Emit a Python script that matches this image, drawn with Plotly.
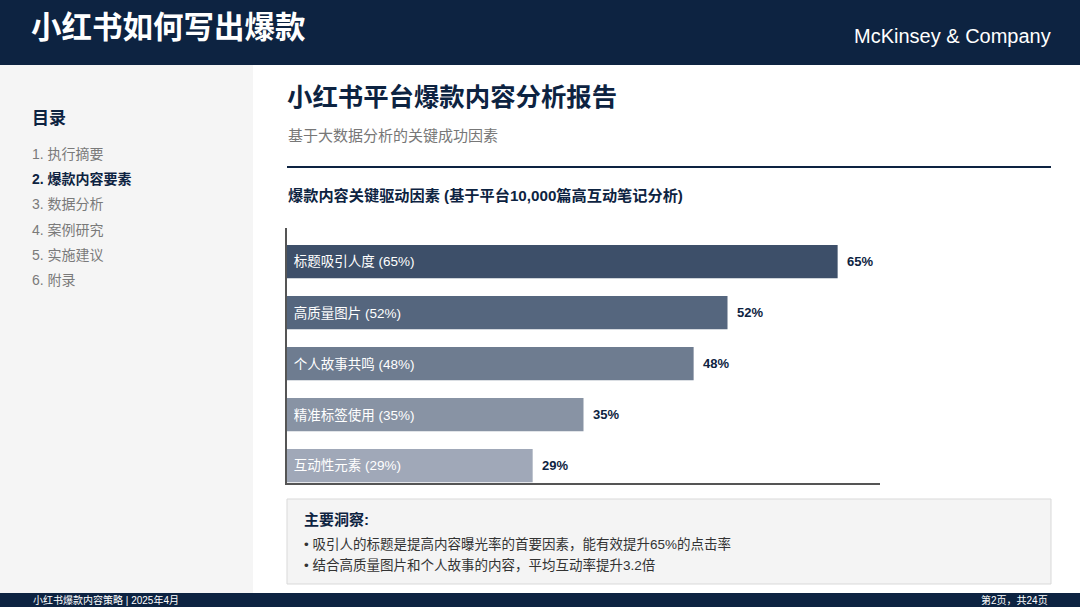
import plotly.graph_objects as go

W, H = 1080, 607

categories = ["标题吸引人度", "高质量图片", "个人故事共鸣", "精准标签使用", "互动性元素"]
values = [65, 52, 48, 35, 29]
bar_colors = ["#3d4f69", "#55667e", "#6e7c90", "#8893a4", "#a0a8b8"]
toc_items = ["1. 执行摘要", "2. 爆款内容要素", "3. 数据分析", "4. 案例研究", "5. 实施建议", "6. 附录"]
active_item = 1
insights = ["• 吸引人的标题是提高内容曝光率的首要因素，能有效提升65%的点击率",
            "• 结合高质量图片和个人故事的内容，平均互动率提升3.2倍"]

NAVY = "#0d2341"
FONT = "Liberation Sans, Noto Sans CJK SC, sans-serif"


def px(x):
    return x / W


def py(y):
    return 1 - y / H


inside_labels = [f"\u00a0{c} ({v}%)" for c, v in zip(categories, values)]

fig = go.Figure()
fig.add_trace(go.Bar(
    y=categories, x=values, orientation="h",
    marker=dict(color=bar_colors, line=dict(width=0)),
    text=inside_labels, textposition="inside", insidetextanchor="start",
    textfont=dict(color="white", size=13.5, family=FONT),
    hoverinfo="skip", cliponaxis=False,
))

shapes = [
    dict(type="rect", xref="paper", yref="paper", x0=0, x1=1, y0=py(65), y1=1,
         fillcolor=NAVY, line=dict(width=0), layer="below"),
    dict(type="rect", xref="paper", yref="paper", x0=0, x1=px(253), y0=py(593), y1=py(65),
         fillcolor="#f5f5f5", line=dict(width=0), layer="below"),
    dict(type="rect", xref="paper", yref="paper", x0=0, x1=1, y0=0, y1=py(593),
         fillcolor=NAVY, line=dict(width=0), layer="below"),
    dict(type="line", xref="paper", yref="paper", x0=px(287), x1=px(1051), y0=py(167), y1=py(167),
         line=dict(color=NAVY, width=2)),
    dict(type="rect", xref="paper", yref="paper", x0=px(287), x1=px(1051), y0=py(584), y1=py(499),
         fillcolor="#f4f4f4", line=dict(color="#d9d9d9", width=1), layer="below"),
]

ann = []

for c, v in zip(categories, values):
    ann.append(dict(x=v, y=c, xref="x", yref="y", text=f"<b>{v}%</b>", showarrow=False,
                    xanchor="left", yanchor="middle", xshift=7,
                    font=dict(size=13, color=NAVY, family=FONT)))


def text(x, y, s, size, color, xanchor="left", bold=False):
    ann.append(dict(x=px(x), y=py(y), xref="paper", yref="paper", text=(f"<b>{s}</b>" if bold else s),
                    showarrow=False, xanchor=xanchor, yanchor="middle",
                    font=dict(size=size, color=color, family=FONT)))


text(29, 27, "小红书如何写出爆款", 30.5, "white", bold=True)
text(1053, 36, "McKinsey & Company", 20, "white", xanchor="right")
text(30, 118, "目录", 17, NAVY, bold=True)
for i, item in enumerate(toc_items):
    y = 154 + i * 25.2
    if i == active_item:
        text(30, y, item, 14, NAVY, bold=True)
    else:
        text(30, y, item, 14, "#7a7a7a")
text(285, 97, "小红书平台爆款内容分析报告", 25.4, NAVY, bold=True)
text(286, 136, "基于大数据分析的关键成功因素", 15, "#777777")
text(286, 195, "爆款内容关键驱动因素 (基于平台10,000篇高互动笔记分析)", 15.2, NAVY, bold=True)
text(302, 519, "主要洞察:", 15, NAVY, bold=True)
text(302, 544, insights[0], 13.5, "#333333")
text(302, 565, insights[1], 13.5, "#333333")
text(31, 600, "小红书爆款内容策略 | 2025年4月", 10, "white")
text(1050, 600, "第2页，共24页", 10, "white", xanchor="right")

fig.update_layout(
    width=W, height=H, margin=dict(l=0, r=0, t=0, b=0),
    paper_bgcolor="white", plot_bgcolor="white",
    showlegend=False, bargap=0.35,
    shapes=shapes, annotations=ann,
    xaxis=dict(domain=[px(287), px(880)], range=[0, 70], showgrid=False, zeroline=False,
               showticklabels=False, ticks="", showline=True, linecolor="#555555", linewidth=1.5),
    yaxis=dict(domain=[py(483), py(228)], range=[4.34, -0.66], showgrid=False, zeroline=False,
               showticklabels=False, ticks="", showline=True, linecolor="#555555", linewidth=1.5),
    font=dict(family=FONT),
)

fig.write_html("out.html", config={"displayModeBar": False},
               post_script="document.body.style.margin='0';document.body.style.overflow='hidden';")
